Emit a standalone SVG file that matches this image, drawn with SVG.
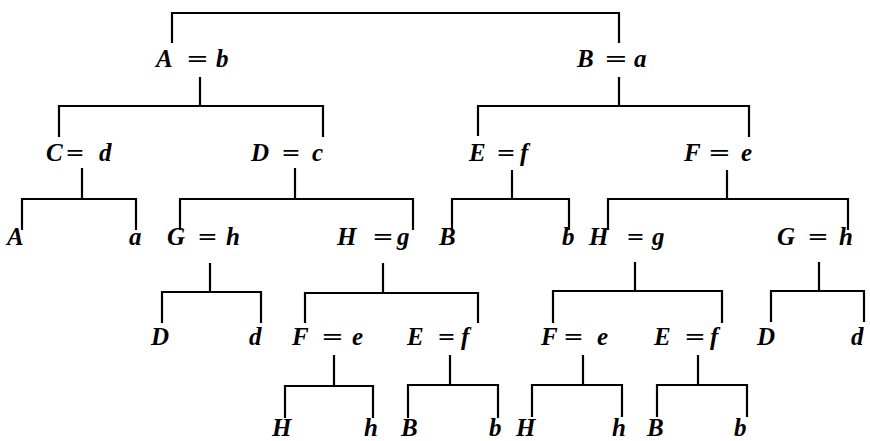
<svg xmlns="http://www.w3.org/2000/svg" width="870" height="441" viewBox="0 0 870 441">
<style>
.t{font-family:"Liberation Serif","Times New Roman",serif;font-style:italic;font-weight:bold;font-size:25px;fill:#000}
.eq{font-family:"Liberation Serif","Times New Roman",serif;font-style:normal;font-weight:bold;font-size:24px;fill:#000}
.c{stroke:#000;stroke-width:2.2;fill:none}
</style>
<rect width="870" height="441" fill="#fff"/>
<g id="connectors">
<path class="c" d="M172 43V13H619V43"/>
<path class="c" d="M200 77V106M59 137V106H323V137"/>
<path class="c" d="M619 77V106M478 136V106H749V137"/>
<path class="c" d="M82 168V199M22 230V199H136V230"/>
<path class="c" d="M295 168V199M180 230V199H413V230"/>
<path class="c" d="M512 170V199M452 230V199H569V230"/>
<path class="c" d="M727 170V199M608 230V199H848V230"/>
<path class="c" d="M210 263V292M162 323V292H261V323"/>
<path class="c" d="M383 263V293M305 323V293H478V323"/>
<path class="c" d="M635 262V291M553 323V291H722V323"/>
<path class="c" d="M819 262V291M771 322V291H864V322"/>
<path class="c" d="M334 355V386M285 418V386H373V418"/>
<path class="c" d="M450 355V385M408 418V385H498V418"/>
<path class="c" d="M583 355V385M532 417V385H622V417"/>
<path class="c" d="M698 355V385M657 417V385H747V417"/>
</g>
<g id="n-A-b"><text class="t" x="156" y="67">A</text><text class="eq" x="187" y="67" textLength="21" lengthAdjust="spacingAndGlyphs">=</text><text class="t" x="216" y="67">b</text></g>
<g id="n-B-a"><text class="t" x="577" y="67">B</text><text class="eq" x="605" y="67" textLength="22" lengthAdjust="spacingAndGlyphs">=</text><text class="t" x="634" y="67">a</text></g>
<g id="n-C-d"><text class="t" x="46" y="161">C</text><text class="eq" x="66" y="161" textLength="18" lengthAdjust="spacingAndGlyphs">=</text><text class="t" x="99" y="161">d</text></g>
<g id="n-D-c"><text class="t" x="251" y="161">D</text><text class="eq" x="282" y="161" textLength="18" lengthAdjust="spacingAndGlyphs">=</text><text class="t" x="312" y="161">c</text></g>
<g id="n-E-f"><text class="t" x="469" y="161">E</text><text class="eq" x="497" y="161" textLength="18" lengthAdjust="spacingAndGlyphs">=</text><text class="t" x="520" y="161">f</text></g>
<g id="n-F-e"><text class="t" x="684" y="161">F</text><text class="eq" x="709" y="161" textLength="21" lengthAdjust="spacingAndGlyphs">=</text><text class="t" x="741" y="161">e</text></g>
<g id="n-A"><text class="t" x="7" y="245">A</text></g>
<g id="n-a"><text class="t" x="129" y="245">a</text></g>
<g id="n-G-h-1"><text class="t" x="167" y="245">G</text><text class="eq" x="198" y="245" textLength="19" lengthAdjust="spacingAndGlyphs">=</text><text class="t" x="226" y="245">h</text></g>
<g id="n-H-g-1"><text class="t" x="337" y="245">H</text><text class="eq" x="373" y="245" textLength="20" lengthAdjust="spacingAndGlyphs">=</text><text class="t" x="397" y="245">g</text></g>
<g id="n-B-1"><text class="t" x="439" y="245">B</text></g>
<g id="n-b-1"><text class="t" x="562" y="245">b</text></g>
<g id="n-H-g-2"><text class="t" x="589" y="245">H</text><text class="eq" x="627" y="245" textLength="17" lengthAdjust="spacingAndGlyphs">=</text><text class="t" x="652" y="245">g</text></g>
<g id="n-G-h-2"><text class="t" x="777" y="245">G</text><text class="eq" x="808" y="245" textLength="20" lengthAdjust="spacingAndGlyphs">=</text><text class="t" x="839" y="245">h</text></g>
<g id="n-D-1"><text class="t" x="151" y="345">D</text></g>
<g id="n-d-1"><text class="t" x="249" y="345">d</text></g>
<g id="n-F-e-1"><text class="t" x="292" y="345">F</text><text class="eq" x="322" y="345" textLength="21" lengthAdjust="spacingAndGlyphs">=</text><text class="t" x="352" y="345">e</text></g>
<g id="n-E-f-1"><text class="t" x="407" y="345">E</text><text class="eq" x="438" y="345" textLength="17" lengthAdjust="spacingAndGlyphs">=</text><text class="t" x="461" y="345">f</text></g>
<g id="n-F-e-2"><text class="t" x="541" y="345">F</text><text class="eq" x="564" y="345" textLength="19" lengthAdjust="spacingAndGlyphs">=</text><text class="t" x="597" y="345">e</text></g>
<g id="n-E-f-2"><text class="t" x="654" y="345">E</text><text class="eq" x="685" y="345" textLength="20" lengthAdjust="spacingAndGlyphs">=</text><text class="t" x="710" y="345">f</text></g>
<g id="n-D-2"><text class="t" x="757" y="345">D</text></g>
<g id="n-d-2"><text class="t" x="851" y="345">d</text></g>
<g id="n-H-1"><text class="t" x="272" y="436">H</text></g>
<g id="n-h-1"><text class="t" x="364" y="436">h</text></g>
<g id="n-B-2"><text class="t" x="401" y="436">B</text></g>
<g id="n-b-2"><text class="t" x="489" y="436">b</text></g>
<g id="n-H-2"><text class="t" x="516" y="436">H</text></g>
<g id="n-h-2"><text class="t" x="612" y="436">h</text></g>
<g id="n-B-3"><text class="t" x="647" y="436">B</text></g>
<g id="n-b-3"><text class="t" x="734" y="436">b</text></g>
</svg>
